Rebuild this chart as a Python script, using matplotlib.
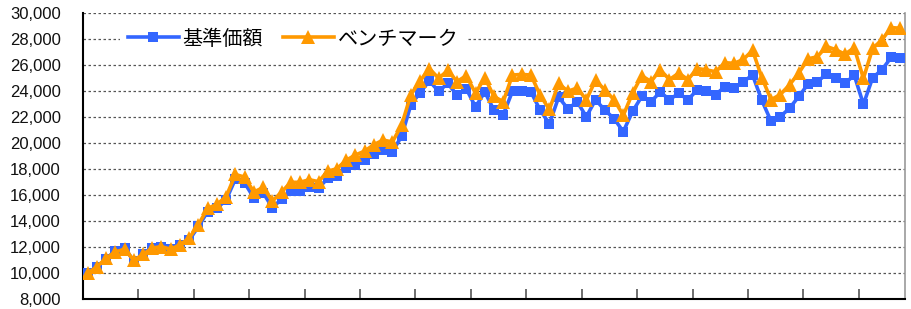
import matplotlib
matplotlib.use("agg")
import matplotlib.pyplot as plt
from matplotlib.ticker import FuncFormatter, FixedLocator

plt.rcParams['font.family'] = ['Liberation Sans', 'Noto Sans CJK JP', 'DejaVu Sans']

# 基準価額 (fund NAV) and benchmark, monthly
fund = [10000, 10450, 11100, 11750, 11950, 10950, 11450, 11950, 12000, 11850,
        12150, 12550, 13600, 14750, 15000, 15650, 17250, 16950, 15800, 16200,
        15050, 15700, 16300, 16300, 16600, 16550, 17300, 17500, 18100, 18350,
        18750, 19200, 19450, 19350, 20550, 22950, 23900, 24800, 24000, 24600,
        23700, 24200, 22800, 23950, 22550, 22200, 24000, 24000, 23950, 22550,
        21500, 23550, 22650, 23200, 22050, 23350, 22550, 21900, 20900, 22450,
        23600, 23200, 23950, 23350, 23850, 23350, 24100, 24000, 23750, 24350,
        24250, 24750, 25250, 23300, 21700, 22050, 22700, 23600, 24550, 24750,
        25300, 25050, 24600, 25250, 23000, 25050, 25650, 26600, 26550]

bench = [10000, 10500, 11150, 11650, 11850, 11000, 11450, 11950, 12050, 11850,
         12200, 12700, 13750, 15000, 15300, 15900, 17600, 17400, 16250, 16600,
         15550, 16250, 17000, 17000, 17200, 17050, 17850, 18050, 18700, 19100,
         19400, 19900, 20250, 20100, 21400, 23750, 24800, 25750, 25000, 25600,
         24750, 25200, 23850, 25050, 23600, 23200, 25250, 25300, 25250, 23700,
         22600, 24600, 24000, 24250, 23350, 24850, 24100, 23350, 22150, 23850,
         25200, 24750, 25650, 24900, 25400, 24900, 25750, 25650, 25500, 26200,
         26150, 26450, 27150, 25050, 23350, 23750, 24500, 25400, 26500, 26650,
         27450, 27200, 26850, 27350, 25000, 27300, 27950, 28900, 28850]

labels = ["基準価額", "ベンチマーク"]
y_ticks = list(range(8000, 30001, 2000))

x = list(range(len(fund)))

fig = plt.figure(figsize=(9.11, 3.09), dpi=100)
ax = fig.add_axes([0.0911, 0.0314, 0.9023, 0.9256])

ax.plot(x, fund, color="#3366FF", lw=2.6, marker="s", markersize=7.2,
        markeredgewidth=0, label=labels[0], zorder=3)
ax.plot(x, bench, color="#FF9900", lw=2.6, marker="^", markersize=9.5,
        markeredgewidth=0, label=labels[1], zorder=4)

ax.set_xlim(-0.5, len(fund) - 0.5)
ax.set_ylim(8000, 30000)
ax.set_yticks(y_ticks)
ax.yaxis.set_major_formatter(FuncFormatter(lambda v, p: f"{int(v):,}"))
ax.tick_params(axis="y", length=0, pad=16, labelsize=12, labelcolor="#111111")

# category-style ticks every 6 points, inward, no labels
ax.xaxis.set_major_locator(FixedLocator([k - 0.5 for k in range(6, len(fund), 6)]))
ax.tick_params(axis="x", direction="in", length=7, width=1.2, color="#555555",
               labelbottom=False)

ax.grid(axis="y", color="#555555", linestyle=(0, (2, 2)), lw=0.9)
ax.set_axisbelow(True)

ax.spines["top"].set_visible(False)
ax.spines["left"].set_linewidth(1.5)
ax.spines["bottom"].set_linewidth(1.5)
ax.spines["right"].set_color("#999999")
ax.spines["right"].set_linewidth(1.2)

leg = ax.legend(loc="center left", bbox_to_anchor=(0.033, 0.91), ncol=2,
                frameon=True, fancybox=False, framealpha=1, edgecolor="none",
                facecolor="white", handlelength=2.5, handletextpad=0.2,
                columnspacing=1.0, borderpad=0.4,
                prop={"family": ["Noto Sans CJK JP", "DejaVu Sans"], "size": 14.5})

plt.savefig("out.png", dpi=100)
